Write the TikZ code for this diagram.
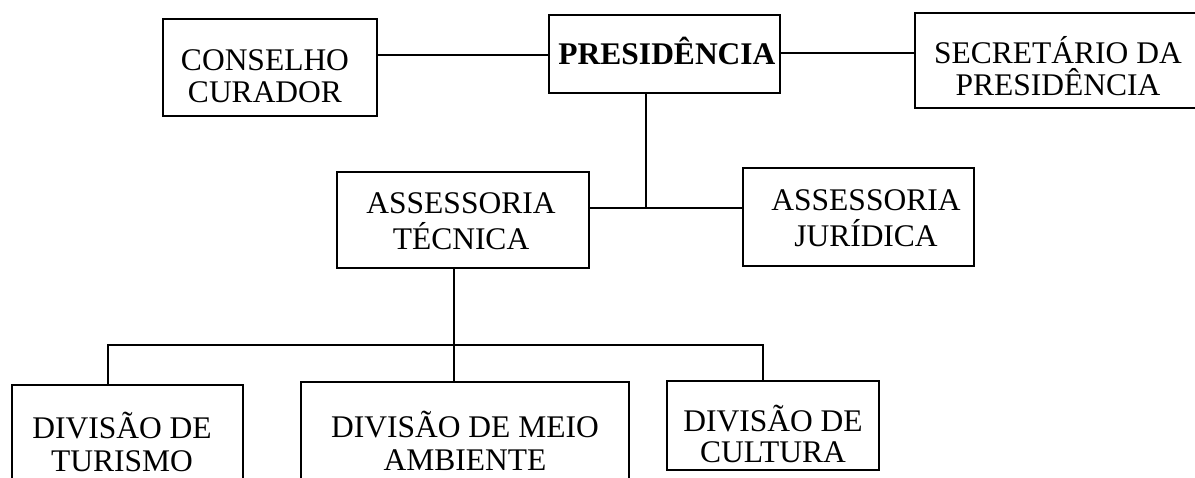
\documentclass[tikz,border=0pt]{standalone}
\usepackage{fontspec}
\setmainfont{Liberation Serif}
\begin{document}
\begin{tikzpicture}[x=1pt,y=-1pt,
  box/.style={draw, line width=1.5pt, inner sep=0pt},
  lbl/.style={align=center, inner sep=0pt, font=\fontsize{31.5}{#1}\selectfont},
  lbl/.default=33,
  wire/.style={line width=1.5pt}]
\useasboundingbox[fill=white] (0,0) rectangle (1195,477);
% boxes
\node[box, minimum width=214pt, minimum height=97pt] (cons) at (270,67.5) {};
\node[box, minimum width=231pt, minimum height=78pt] (pres) at (664.5,54) {};
\node[box, minimum width=285pt, minimum height=95pt] (sec) at (1057.5,60.5) {};
\node[box, minimum width=252pt, minimum height=96pt] (tec) at (463,220) {};
\node[box, minimum width=231pt, minimum height=98pt] (jur) at (858.5,217) {};
\node[box, minimum width=231pt, minimum height=115pt] (tur) at (127.5,442.5) {};
\node[box, minimum width=328pt, minimum height=118pt] (meio) at (465,441) {};
\node[box, minimum width=212pt, minimum height=89pt] (cul) at (773,425.5) {};
% texts
\node[lbl=32] (consT) at (265,76.5) {CONSELHO\\CURADOR};
\node[lbl=32] (presT) at (667,50.5) {\textbf{PRESIDÊNCIA}};
\node[lbl=32] (secT) at (1058,66) {SECRETÁRIO DA\\PRESIDÊNCIA};
\node[lbl=36] (tecT) at (461,221.5) {ASSESSORIA\\TÉCNICA};
\node[lbl=36] (jurT) at (866,218.5) {ASSESSORIA\\JURÍDICA};
\node[lbl=33] (turT) at (122,442) {DIVISÃO DE\\TURISMO};
\node[lbl=33] (meioT) at (465,441) {DIVISÃO DE MEIO\\AMBIENTE};
\node[lbl=31] (culT) at (773,434) {DIVISÃO DE\\CULTURA};
% connectors
\coordinate (j1) at (646,208);
\coordinate (tecx) at (454,0);
\coordinate (bl) at (108,345);
\coordinate (br) at (763,345);
\draw[wire] (cons.east |- 0,55) -- (pres.west |- 0,55);
\draw[wire] (pres.east |- 0,53) -- (sec.west |- 0,53);
\draw[wire] (pres.south -| j1) -- (j1);
\draw[wire] (tec.east |- j1) -- (jur.west |- j1);
\draw[wire] (tec.south -| tecx) -- (meio.north -| tecx);
\draw[wire] (tur.north -| bl) -- (bl) -- (br) -- (cul.north -| br);
\end{tikzpicture}
\end{document}
